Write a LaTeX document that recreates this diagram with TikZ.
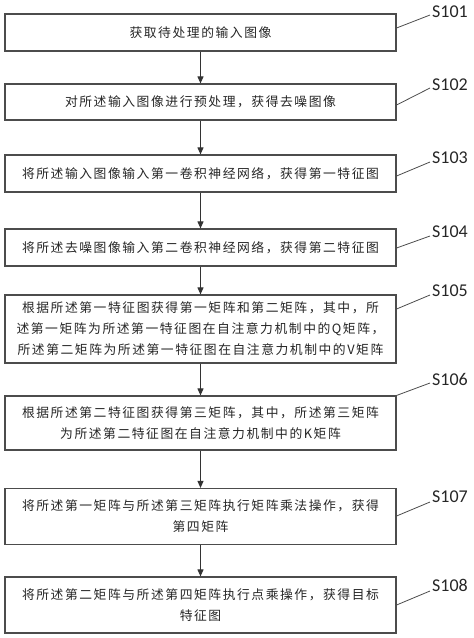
\documentclass[tikz,border=0pt]{standalone}
\usepackage{fontspec}
\usetikzlibrary{arrows.meta}
\newfontfamily\cjk[LetterSpace=12]{Noto Sans CJK SC}
\newfontfamily\lbl{Carlito}
\begin{document}
\begin{tikzpicture}[x=1pt,y=-1pt,
  stepbox/.style={draw=black!70,line width=1.1pt,minimum width=391pt,inner sep=0pt,align=center,
    font=\cjk\fontsize{12.8pt}{21pt}\selectfont,text=black!85},
  conn/.style={draw=black!80,line width=0.9pt,-{Triangle[width=6pt,length=7pt]}},
  lead/.style={draw=black!70,line width=0.8pt},
  steplbl/.style={anchor=west,inner sep=0pt,font=\lbl\fontsize{18pt}{20pt}\selectfont,text=black!85}]
\useasboundingbox (0,0) rectangle (474,638);
\node[stepbox,minimum height=37pt] (b1) at (200.5,32.5) {获取待处理的输入图像};
\node[stepbox,minimum height=36pt] (b2) at (200.5,102) {对所述输入图像进行预处理，获得去噪图像};
\node[stepbox,minimum height=37pt] (b3) at (200.5,173.5) {将所述输入图像输入第一卷积神经网络，获得第一特征图};
\node[stepbox,minimum height=37pt] (b4) at (200.5,247.5) {将所述去噪图像输入第二卷积神经网络，获得第二特征图};
\node[stepbox,minimum height=68pt] (b5) at (200.5,329) {根据所述第一特征图获得第一矩阵和第二矩阵，其中，所\\述第一矩阵为所述第一特征图在自注意力机制中的Q矩阵，\\所述第二矩阵为所述第一特征图在自注意力机制中的V矩阵};
\node[stepbox,minimum height=54pt] (b6) at (200.5,423) {根据所述第二特征图获得第三矩阵，其中，所述第三矩阵\\为所述第二特征图在自注意力机制中的K矩阵};
\node[stepbox,minimum height=56pt] (b7) at (200.5,516.5) {将所述第一矩阵与所述第三矩阵执行矩阵乘法操作，获得\\第四矩阵};
\node[stepbox,minimum height=56pt] (b8) at (200.5,605) {将所述第二矩阵与所述第四矩阵执行点乘操作，获得目标\\特征图};
\foreach \a/\b in {b1/b2,b2/b3,b3/b4,b4/b5,b5/b6,b6/b7,b7/b8}
  \draw[conn] (\a.south) -- (\b.north);
% labels
\node[steplbl] (l1) at (432,12) {S101};
\node[steplbl] (l2) at (432,85) {S102};
\node[steplbl] (l3) at (432,158) {S103};
\node[steplbl] (l4) at (432,232) {S104};
\node[steplbl] (l5) at (432,291) {S105};
\node[steplbl] (l6) at (432,379) {S106};
\node[steplbl] (l7) at (432,497) {S107};
\node[steplbl] (l8) at (432,585) {S108};
\coordinate (e1) at (430,15);
\coordinate (e2) at (430,88);
\coordinate (e3) at (430,162);
\coordinate (e4) at (430,236);
\coordinate (e5) at (430,295);
\coordinate (e6) at (430,383);
\coordinate (e7) at (430,502);
\coordinate (e8) at (430,591);
\draw[lead] (b1.east |- 0,28) -- (e1);
\draw[lead] (b2.east |- 0,105) -- (e2);
\draw[lead] (b3.east |- 0,176) -- (e3);
\draw[lead] (b4.east |- 0,248) -- (e4);
\draw[lead] (b5.east |- 0,309) -- (e5);
\draw[lead] (b6.north east) -- (e6);
\draw[lead] (b7.east |- 0,516) -- (e7);
\draw[lead] (b8.east |- 0,605) -- (e8);
\end{tikzpicture}
\end{document}
